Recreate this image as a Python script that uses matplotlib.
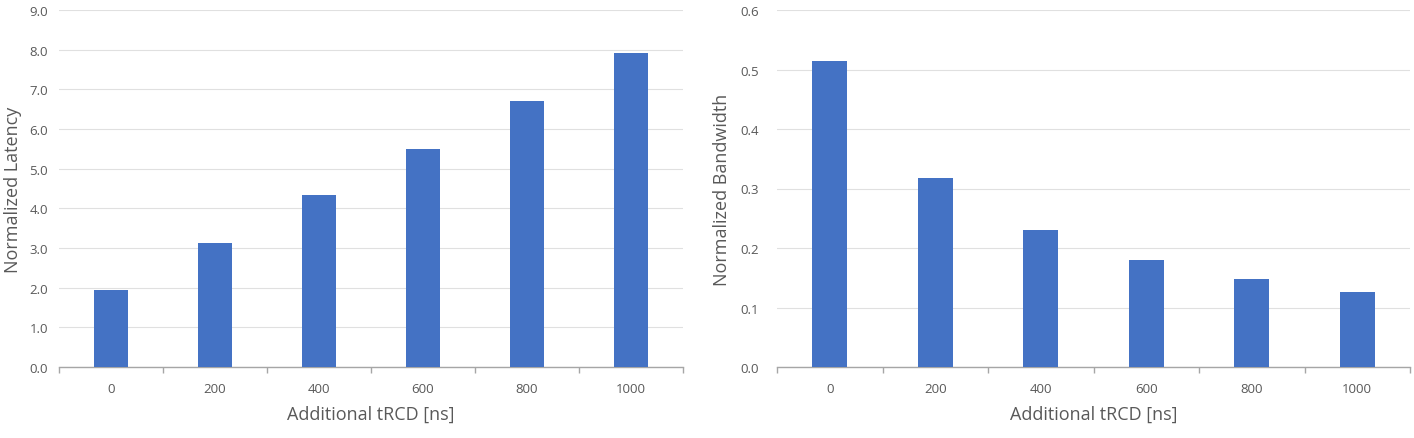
import matplotlib
matplotlib.use("Agg")
import matplotlib.pyplot as plt
import numpy as np

categories = ["0", "200", "400", "600", "800", "1000"]
latency = [1.94, 3.12, 4.33, 5.49, 6.70, 7.91]
bandwidth = [0.514, 0.318, 0.230, 0.180, 0.148, 0.126]

plt.rcParams['font.family'] = ['Open Sans', 'DejaVu Sans']

W, H = 1414, 439
fig = plt.figure(figsize=(W / 100, H / 100), dpi=100)

bar_color = "#4472C4"
text_color = "#595959"
grid_color = "#E0E0E0"
axis_color = "#A6A6A6"


def make_axes(rect, values, ymax, ystep, fmt, ylabel, ylabel_x, ypad):
    ax = fig.add_axes(rect)
    x = np.arange(len(categories))
    ax.bar(x, values, width=0.33, color=bar_color, zorder=3)
    ax.set_xlim(-0.5, len(categories) - 0.5)
    ax.set_ylim(0, ymax)
    yt = np.arange(0, ymax + ystep / 2, ystep)
    ax.set_yticks(yt)
    ax.set_yticklabels([fmt.format(v) for v in yt])
    ax.set_xticks(x)
    ax.set_xticklabels(categories)
    ax.set_xticks(np.arange(-0.5, len(categories)), minor=True)
    ax.tick_params(axis='x', which='major', length=0, pad=11, labelsize=9.5, labelcolor=text_color)
    ax.tick_params(axis='x', which='minor', length=4, color=axis_color, width=1, direction='out')
    ax.tick_params(axis='y', length=0, pad=ypad, labelsize=9.5, labelcolor=text_color)
    ax.grid(axis='y', color=grid_color, linewidth=0.8, zorder=0)
    for s in ['top', 'right', 'left']:
        ax.spines[s].set_visible(False)
    ax.spines['bottom'].set_color(axis_color)
    ax.spines['bottom'].set_linewidth(1)
    ax.set_xlabel("Additional tRCD [ns]", fontsize=13, color=text_color, labelpad=7)
    ax.set_ylabel(ylabel, fontsize=13, color=text_color)
    ax.yaxis.set_label_coords(ylabel_x, 0.5)
    return ax


ax1 = make_axes([59 / W, (H - 368) / H, (683 - 59) / W, (368 - 11) / H],
                latency, 9.0, 1.0, "{:.1f}", "Normalized Latency", -0.059, 8)
ax2 = make_axes([777 / W, (H - 368) / H, (1410 - 777) / W, (368 - 11) / H],
                bandwidth, 0.6, 0.1, "{:.1f}", "Normalized Bandwidth", -0.073, 13)

fig.savefig("out.png", dpi=100)
